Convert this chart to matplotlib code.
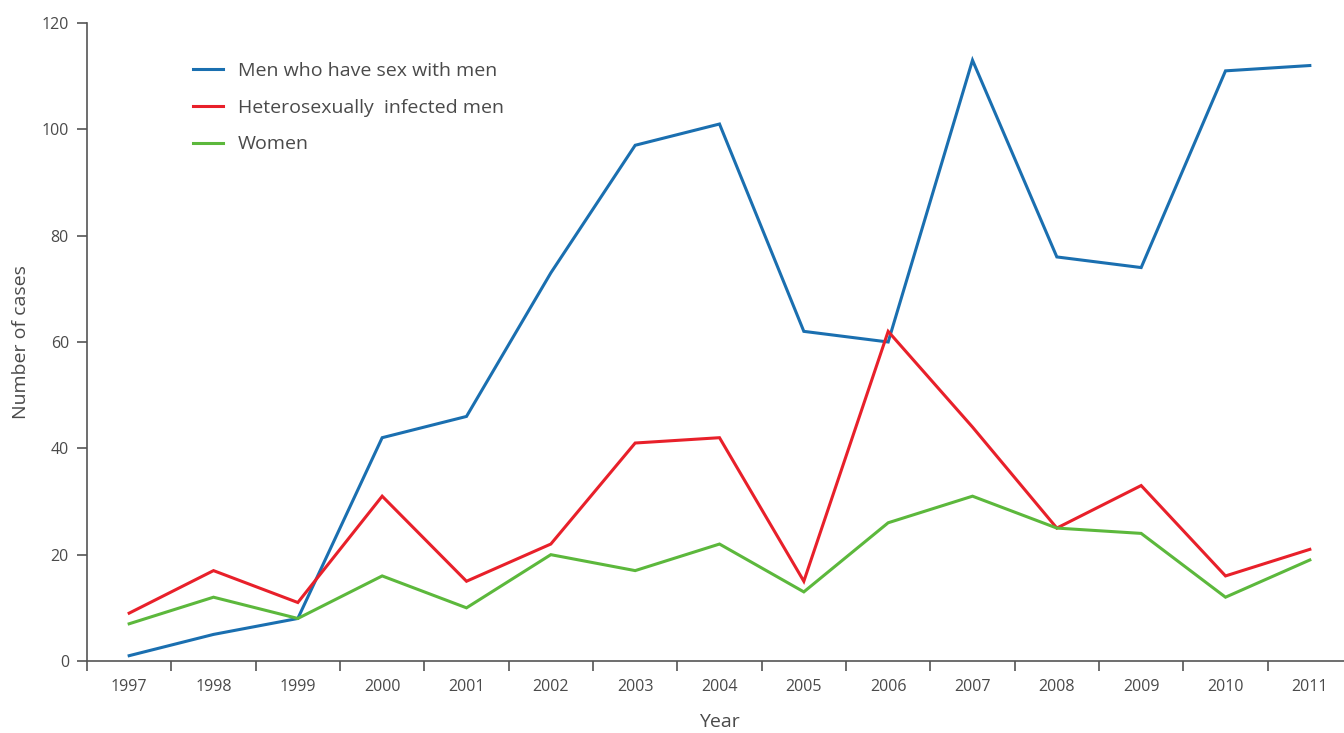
import matplotlib
matplotlib.use("Agg")
import matplotlib.pyplot as plt
import numpy as np

years = ["1997", "1998", "1999", "2000", "2001", "2002", "2003", "2004",
         "2005", "2006", "2007", "2008", "2009", "2010", "2011"]
msm = [1, 5, 8, 42, 46, 73, 97, 101, 62, 60, 113, 76, 74, 111, 112]
hetero = [9, 17, 11, 31, 15, 22, 41, 42, 15, 62, 44, 25, 33, 16, 21]
women = [7, 12, 8, 16, 10, 20, 17, 22, 13, 26, 31, 25, 24, 12, 19]
series_names = ["Men who have sex with men", "Heterosexually  infected men", "Women"]
yticks = [0, 20, 40, 60, 80, 100, 120]

plt.rcParams['font.family'] = ['Open Sans', 'DejaVu Sans']
text_color = "#4a4a4a"
axis_color = "#555555"

W, H = 1344, 733
fig = plt.figure(figsize=(W / 100, H / 100), dpi=100)
left_px, right_px, top_px, bot_px = 87, 1352, 23, 661
aw, ah = right_px - left_px, bot_px - top_px
ax = fig.add_axes([left_px / W, 1 - bot_px / H, aw / W, ah / H])

x = np.arange(len(years))
colors = ["#1a6fb0", "#e8202a", "#5cb83c"]
for vals, name, c in zip([msm, hetero, women], series_names, colors):
    ax.plot(x, vals, color=c, lw=2.2, label=name, solid_joinstyle='miter')

ax.set_xlim(-0.5, len(years) - 0.5)
ax.set_ylim(0, 120)
ax.set_yticks(yticks)
ax.set_yticklabels([str(v) for v in yticks])
ax.set_xticks(x)
ax.set_xticklabels(years)
ax.set_xticks(np.arange(-0.5, len(years) - 0.5, 1.0), minor=True)
ax.tick_params(axis='x', which='major', length=0, pad=13, labelsize=11.5, labelcolor=text_color)
ax.tick_params(axis='x', which='minor', length=7, width=1.2, color=axis_color, direction='out')
ax.tick_params(axis='y', which='major', length=7, width=1.2, color=axis_color, direction='out',
               pad=6, labelsize=11.5, labelcolor=text_color)

for s in ['top', 'right']:
    ax.spines[s].set_visible(False)
for s in ['left', 'bottom']:
    ax.spines[s].set_color(axis_color)
    ax.spines[s].set_linewidth(1.2)

ax.set_ylabel("Number of cases", fontsize=14, color=text_color)
ax.yaxis.set_label_coords((21 - left_px) / aw, 0.5)
ax.set_xlabel("Year", fontsize=14, color=text_color)
ax.xaxis.set_label_coords(0.5, 1 - (722 - top_px) / ah)
ax.xaxis.label.set_va('center')
ax.yaxis.label.set_va('center')

leg = ax.legend(loc='upper left', bbox_to_anchor=((193 - left_px) / aw, 1 - (62 - top_px) / ah),
                frameon=False, fontsize=14, handlelength=1.55, handletextpad=0.77,
                labelspacing=0.96, borderaxespad=0, borderpad=0)
for t in leg.get_texts():
    t.set_color(text_color)

fig.savefig("out.png", dpi=100)
